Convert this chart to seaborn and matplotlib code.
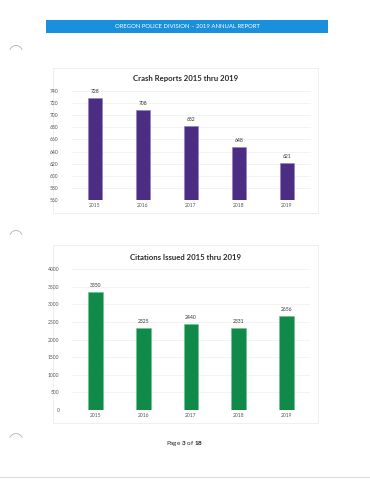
import matplotlib
matplotlib.use("Agg")
import matplotlib.pyplot as plt
from matplotlib.patches import Rectangle, Arc
import pandas as pd
import seaborn as sns

# Chart data
years = ["2015", "2016", "2017", "2018", "2019"]
crash_reports = [728, 708, 682, 648, 621]
citations = [3350, 2325, 2440, 2331, 2656]

crash_ticks = list(range(560, 741, 20))
citation_ticks = list(range(0, 4001, 500))

PURPLE = "#4b2d84"
GREEN = "#0f8a48"

sns.set_theme(style="white")
plt.rcParams["font.family"] = ["Lato", "DejaVu Sans"]
plt.rcParams["mathtext.fontset"] = "custom"
plt.rcParams["mathtext.rm"] = "Lato"
plt.rcParams["mathtext.bf"] = "Lato:bold"

fig = plt.figure(figsize=(3.7, 4.8), dpi=100)
fig.patch.set_facecolor("white")

# page decorations in pixel coordinates
deco = fig.add_axes([0, 0, 1, 1], zorder=0)
deco.set_xlim(0, 370)
deco.set_ylim(480, 0)
deco.axis("off")
deco.add_patch(Rectangle((46, 20), 282, 13, color="#1a8fdb", lw=0))
deco.text(187, 26.5, "OREGON POLICE DIVISION \u2013 2019 ANNUAL REPORT",
          color="white", fontsize=4.3, ha="center", va="center")
deco.add_patch(Rectangle((53, 68), 265, 145, fill=False, ec="#ececec", lw=0.6))
deco.add_patch(Rectangle((53, 245), 265, 178, fill=False, ec="#ececec", lw=0.6))
for y in (52, 237, 440):
    deco.add_patch(Arc((16, y), 13, 13, theta1=200, theta2=340, color="#b0b0b0", lw=0.6))
deco.text(185, 443, r"Page $\mathbf{3}$ of $\mathbf{18}$", fontsize=4.6,
          ha="center", va="center", color="#222222")
deco.plot([0, 370], [477, 477], color="#dddddd", lw=0.8)


def draw_chart(rect, values, color, edge, ticks, title, title_y):
    ax = fig.add_axes(rect, zorder=1)
    ax.patch.set_alpha(0)
    df = pd.DataFrame({"year": years, "value": values})
    sns.barplot(data=df, x="year", y="value", color=color, width=0.31,
                saturation=1, edgecolor=edge, linewidth=0.4, ax=ax, zorder=3)
    ax.set_ylim(ticks[0], ticks[-1])
    ax.set_yticks(ticks)
    ax.set_yticklabels([str(t) for t in ticks])
    ax.tick_params(axis="both", labelsize=3.6, colors="#555555", length=0, pad=2)
    ax.tick_params(axis="y", pad=9)
    ax.grid(axis="y", color="#eeeeee", lw=0.5, zorder=0)
    for s in ax.spines.values():
        s.set_visible(False)
    ax.set_xlabel("")
    ax.set_ylabel("")
    for i, v in enumerate(values):
        ax.annotate(str(v), (i, v), xytext=(0, 3), textcoords="offset points",
                    ha="center", va="bottom", fontsize=3.6, color="#333333")
    fig.text(0.5 * (53 + 318) / 370, 1 - title_y / 480, title, ha="center",
             va="center", fontsize=5.6, weight="bold", color="#2a2a2a")
    return ax


draw_chart([71 / 370, 1 - 200 / 480, 240 / 370, 109 / 480], crash_reports, PURPLE,
           "#8f7fb8", crash_ticks, "Crash Reports 2015 thru 2019", 79)
draw_chart([72 / 370, 1 - 410 / 480, 238 / 370, 141 / 480], citations, GREEN,
           "#6cc08f", citation_ticks, "Citations Issued 2015 thru 2019", 257)

fig.savefig("out.png", dpi=100, facecolor="white")
